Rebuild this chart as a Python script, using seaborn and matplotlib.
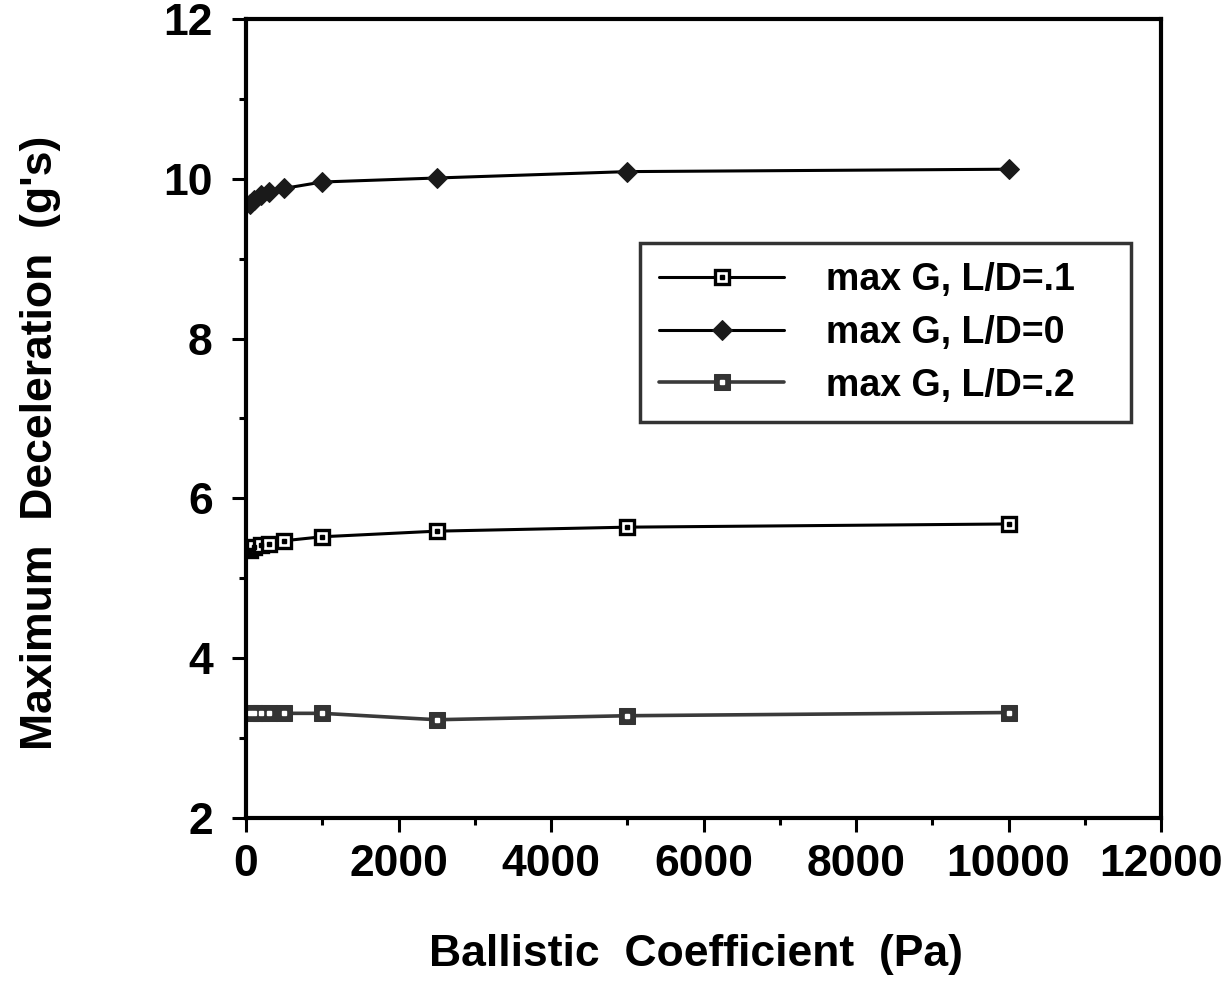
import matplotlib
matplotlib.use("Agg")
import matplotlib.pyplot as plt
import seaborn as sns
import pandas as pd
from matplotlib.ticker import MultipleLocator
from matplotlib.legend_handler import HandlerTuple

ballistic = [50, 100, 200, 300, 500, 1000, 2500, 5000, 10000]
g_ld01 = [5.36, 5.39, 5.42, 5.43, 5.47, 5.52, 5.59, 5.64, 5.68]
g_ld0 = [9.68, 9.74, 9.80, 9.84, 9.88, 9.96, 10.01, 10.09, 10.12]
g_ld02 = [3.31, 3.31, 3.31, 3.31, 3.31, 3.31, 3.23, 3.28, 3.32]
labels = ["max G, L/D=.1", "max G, L/D=0", "max G, L/D=.2"]

sns.set_theme(style="white")
plt.rcParams['font.family'] = ['Liberation Sans', 'DejaVu Sans']
plt.rcParams['font.weight'] = 'bold'
plt.rcParams['text.color'] = 'black'
plt.rcParams['axes.labelcolor'] = 'black'
plt.rcParams['xtick.color'] = 'black'
plt.rcParams['ytick.color'] = 'black'

fig = plt.figure(figsize=(12.22, 9.83), dpi=100)
ax = fig.add_axes([246/1222, 1-818/983, (1161-246)/1222, (818-19)/983])

df = pd.DataFrame({"x": ballistic, "a": g_ld01, "b": g_ld0, "c": g_ld02})

sns.lineplot(data=df, x="x", y="a", ax=ax, color="black", lw=2.2, marker="s",
             markersize=10, markerfacecolor="white", markeredgecolor="black",
             markeredgewidth=2.4, label=labels[0])
sns.lineplot(data=df, x="x", y="b", ax=ax, color="black", lw=2.2, marker="D",
             markersize=10, markerfacecolor="#1a1a1a", markeredgecolor="#1a1a1a",
             label=labels[1])
sns.lineplot(data=df, x="x", y="c", ax=ax, color="#3a3a3a", lw=2.6, marker="s",
             markersize=12, markerfacecolor="#333333", markeredgecolor="#333333",
             label=labels[2])
# center dots
dot_a, = ax.plot(df["x"], df["a"], ls="none", marker="s", ms=2.5, color="black")
dot_c, = ax.plot(df["x"], df["c"], ls="none", marker="s", ms=2.5, color="white")

ax.set_xlim(0, 12000)
ax.set_ylim(2, 12)
ax.xaxis.set_major_locator(MultipleLocator(2000))
ax.xaxis.set_minor_locator(MultipleLocator(1000))
ax.yaxis.set_major_locator(MultipleLocator(2))
ax.yaxis.set_minor_locator(MultipleLocator(1))
ax.tick_params(which="major", direction="out", length=10, width=2.2, labelsize=32,
               bottom=True, left=True)
ax.tick_params(axis="x", which="major", pad=9)
ax.tick_params(axis="y", which="major", pad=14)
ax.tick_params(which="minor", direction="out", length=5, width=2.2,
               bottom=True, left=True)
for lab in ax.get_xticklabels() + ax.get_yticklabels():
    lab.set_fontweight("bold")
for s in ax.spines.values():
    s.set_linewidth(3)
    s.set_color("black")

ax.set_xlabel("Ballistic  Coefficient  (Pa)", fontsize=32, fontweight="bold")
ax.set_ylabel("Maximum  Deceleration  (g's)", fontsize=32, fontweight="bold")
ax.xaxis.set_label_coords(0.492, (818-934)/799)
ax.yaxis.set_label_coords((61-246)/915, 0.47)

handles, labs = ax.get_legend_handles_labels()
handles = [(handles[0], dot_a), handles[1], (handles[2], dot_c)]
leg = ax.legend(handles, labs[:3], handler_map={tuple: HandlerTuple(ndivide=1, pad=0)},
                loc="upper left",
                bbox_to_anchor=(640/1222, 1-425/983, 491/1222, 182/983),
                bbox_transform=fig.transFigure, mode="expand", borderaxespad=0,
                fontsize=27, frameon=True, fancybox=False, edgecolor="black",
                handlelength=3.35, handletextpad=1.1, borderpad=0.5,
                labelspacing=0.45)
leg.get_frame().set_linewidth(2.5)
for t in leg.get_texts():
    t.set_fontweight("bold")
    t.set_color("black")

fig.savefig("out.png", dpi=100)
